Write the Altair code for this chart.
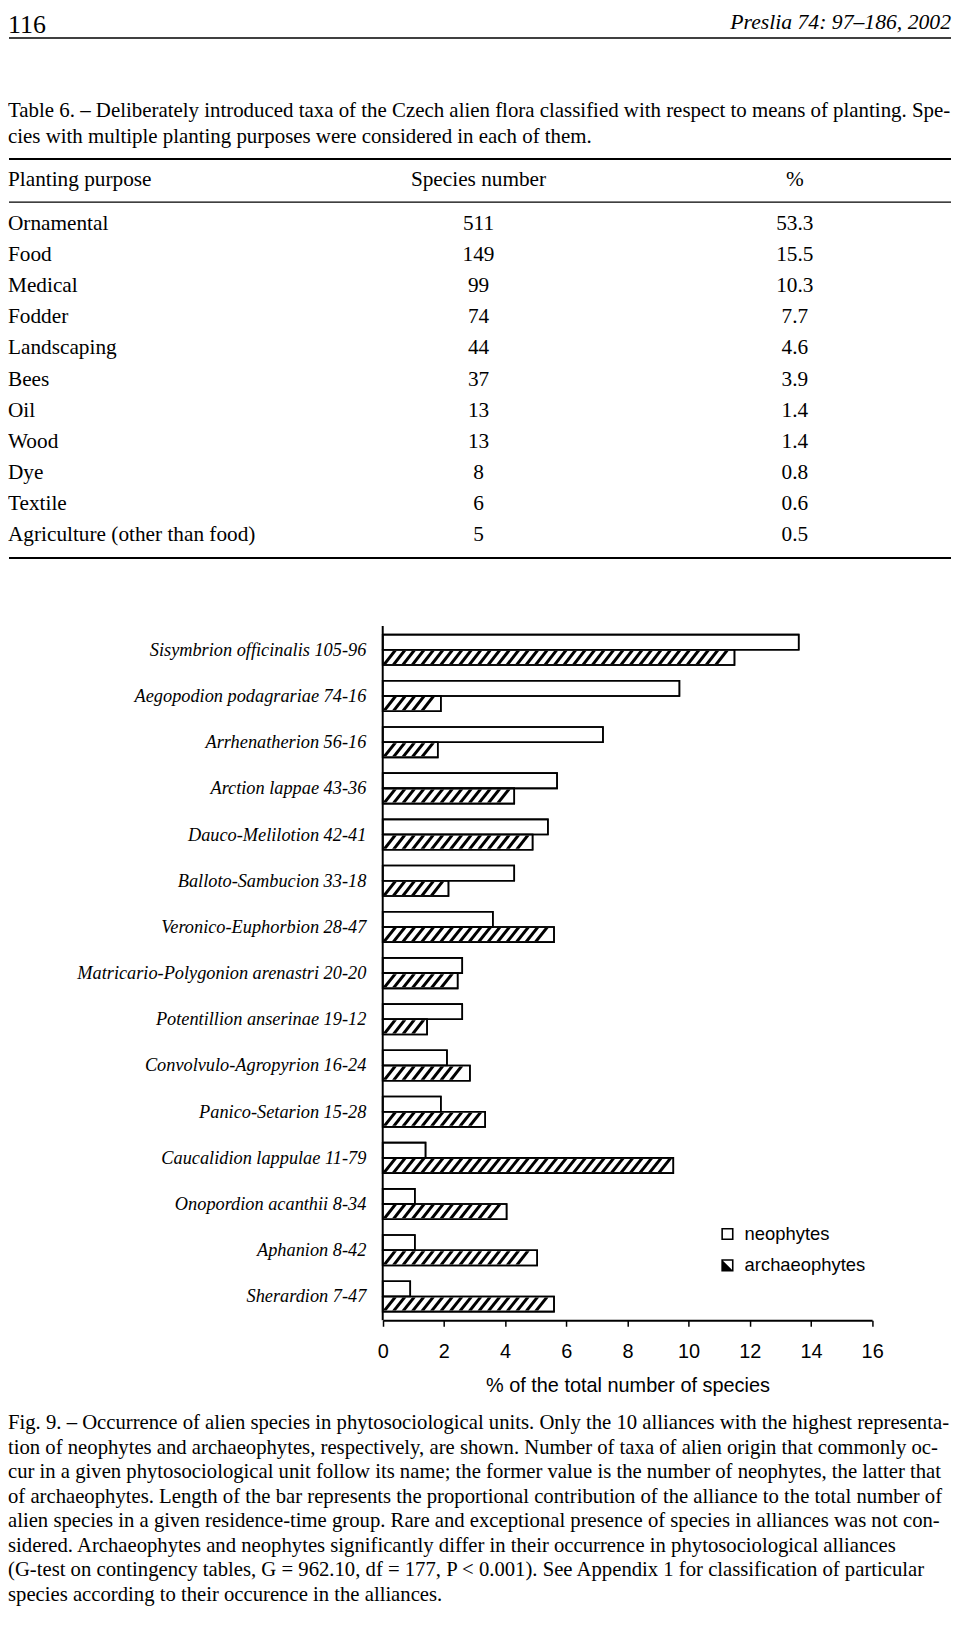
import altair as alt
import pandas as pd

# ---------------- data ----------------
page_number = "116"
journal_ref = "Preslia 74: 97–186, 2002"

table_caption = [
    "Table 6. – Deliberately introduced taxa of the Czech alien flora classified with respect to means of planting. Spe-",
    "cies with multiple planting purposes were considered in each of them.",
]
table_headers = ["Planting purpose", "Species number", "%"]
purposes = ["Ornamental", "Food", "Medical", "Fodder", "Landscaping", "Bees", "Oil",
            "Wood", "Dye", "Textile", "Agriculture (other than food)"]
species_number = [511, 149, 99, 74, 44, 37, 13, 13, 8, 6, 5]
species_percent = ["53.3", "15.5", "10.3", "7.7", "4.6", "3.9", "1.4", "1.4", "0.8", "0.6", "0.5"]

alliances = [
    "Sisymbrion officinalis 105-96",
    "Aegopodion podagrariae 74-16",
    "Arrhenatherion 56-16",
    "Arction lappae 43-36",
    "Dauco-Melilotion 42-41",
    "Balloto-Sambucion 33-18",
    "Veronico-Euphorbion 28-47",
    "Matricario-Polygonion arenastri 20-20",
    "Potentillion anserinae 19-12",
    "Convolvulo-Agropyrion 16-24",
    "Panico-Setarion 15-28",
    "Caucalidion lappulae 11-79",
    "Onopordion acanthii 8-34",
    "Aphanion 8-42",
    "Sherardion 7-47",
]
neophytes = [13.6, 9.7, 7.2, 5.7, 5.4, 4.3, 3.6, 2.6, 2.6, 2.1, 1.9, 1.4, 1.05, 1.05, 0.9]
archaeophytes = [11.5, 1.9, 1.8, 4.3, 4.9, 2.15, 5.6, 2.45, 1.45, 2.85, 3.35, 9.5, 4.05, 5.05, 5.6]
series_names = ["neophytes", "archaeophytes"]
x_ticks = [0, 2, 4, 6, 8, 10, 12, 14, 16]
x_title = "% of the total number of species"

fig_caption = [
    "Fig. 9. – Occurrence of alien species in phytosociological units. Only the 10 alliances with the highest representa-",
    "tion of neophytes and archaeophytes, respectively, are shown. Number of taxa of alien origin that commonly oc-",
    "cur in a given phytosociological unit follow its name; the former value is the number of neophytes, the latter that",
    "of archaeophytes. Length of the bar represents the proportional contribution of the alliance to the total number of",
    "alien species in a given residence-time group. Rare and exceptional presence of species in alliances was not con-",
    "sidered. Archaeophytes and neophytes significantly differ in their occurrence in phytosociological alliances",
    "(G-test on contingency tables, G = 962.10, df = 177, P < 0.001). See Appendix 1 for classification of particular",
    "species according to their occurence in the alliances.",
]

# ---------------- style ----------------
SERIF = "Liberation Serif"
SANS = "Liberation Sans"
W = 948

def text_at(text, x, y, size, align="left", baseline="middle", style="normal", font=SERIF):
    return alt.Chart(pd.DataFrame({"t": [text]})).mark_text(
        align=align, baseline=baseline, font=font, fontSize=size, fontStyle=style, color="black"
    ).encode(text="t:N", x=alt.value(x), y=alt.value(y))

def hrule(y, w):
    return alt.Chart(pd.DataFrame({"a": [0]})).mark_rule(color="black", strokeWidth=w).encode(
        x=alt.value(1), x2=alt.value(W), y=alt.value(y))

def caption_lines(lines, y0, y1, size):
    df = pd.DataFrame({"line": list(range(len(lines))), "t": lines})
    return alt.Chart(df).mark_text(
        align="left", baseline="middle", font=SERIF, fontSize=size, color="black"
    ).encode(
        x=alt.value(0),
        y=alt.Y("line:Q", scale=alt.Scale(domain=[0, len(lines) - 1], range=[y0, y1]), axis=None),
        text="t:N",
    )

# ---------------- top: header + table ----------------
TBL = 21.4
tbl = pd.DataFrame({"purpose": purposes, "n": species_number, "pct": species_percent})
yrow = alt.Y("purpose:N", sort=purposes,
             scale=alt.Scale(type="point", range=[212.8, 525.9], padding=0), axis=None)
tbase = alt.Chart(tbl)
col_purpose = tbase.mark_text(align="left", baseline="middle", font=SERIF, fontSize=TBL, color="black").encode(
    x=alt.value(0), y=yrow, text="purpose:N")
col_n = tbase.mark_text(align="center", baseline="middle", font=SERIF, fontSize=TBL, color="black").encode(
    x=alt.value(473), y=yrow, text="n:N")
col_pct = tbase.mark_text(align="center", baseline="middle", font=SERIF, fontSize=TBL, color="black").encode(
    x=alt.value(791), y=yrow, text="pct:N")

top = alt.layer(
    text_at(page_number, 0, 0, 26, baseline="top"),
    text_at(journal_ref, W, 0, 21.8, align="right", baseline="top", style="italic"),
    hrule(26, 1.5),
    caption_lines(table_caption, 99, 125, 21),
    hrule(147.5, 2),
    text_at(table_headers[0], 0, 169, TBL),
    text_at(table_headers[1], 473, 169, TBL, align="center"),
    text_at(table_headers[2], 791, 169, TBL, align="center"),
    hrule(191, 1.2),
    col_purpose, col_n, col_pct,
    hrule(548.7, 2),
).resolve_scale(y="independent").properties(width=W, height=617)

# ---------------- middle: bar chart ----------------
bars_df = pd.DataFrame({
    "alliance": alliances * 2,
    "type": [series_names[0]] * len(alliances) + [series_names[1]] * len(alliances),
    "pct": neophytes + archaeophytes,
})

xscale = alt.Scale(domain=[0, 16], range=[376.7, 868.7], nice=False, zero=True)
xaxis = alt.Axis(values=x_ticks, title=x_title, grid=False, labelFlush=False, labelOverlap=False,
                 domainColor="black", domainWidth=2, tickColor="black", tickWidth=1.5, tickSize=6,
                 labelFont=SANS, labelFontSize=20, labelColor="black", labelPadding=15,
                 titleFont=SANS, titleFontSize=20, titleFontWeight="normal", titleColor="black",
                 titlePadding=15, format="d")
Y = alt.Y("alliance:N", sort=alliances,
          scale=alt.Scale(paddingInner=0.341, paddingOuter=0.187), axis=None)
YO = alt.YOffset("type:N", scale=alt.Scale(domain=series_names, paddingInner=0, paddingOuter=0))

STRIPE = "M -1.08 1 L -0.5 1 L 1.08 -1 L 0.5 -1 Z"
NEO_SYM = "M -1 -1 L 1 -1 L 1 1 L -1 1 Z M -0.74 -0.74 L -0.74 0.74 L 0.74 0.74 L 0.74 -0.74 Z"
ARCH_SYM = NEO_SYM + " M -0.74 -0.74 L 0.74 0.74 L -0.74 0.74 Z"

base = alt.Chart(bars_df)
bars = base.mark_bar(fill="white", stroke="black", strokeWidth=1.6).encode(
    x=alt.X("pct:Q", scale=xscale, axis=xaxis), y=Y, yOffset=YO)
stripes = base.transform_filter(
    alt.datum.type == series_names[1]
).transform_calculate(
    k="sequence(0, floor((datum.pct - 0.46) / 0.31) + 1)"
).transform_flatten(["k"]).transform_calculate(
    xs="0.23 + datum.k * 0.31"
).mark_point(shape=STRIPE, filled=True, color="black", size=174, strokeWidth=0, opacity=1).encode(
    x=alt.X("xs:Q", scale=xscale, axis=xaxis), y=Y, yOffset=YO)
outline = base.mark_bar(fill="white", fillOpacity=0, stroke="black", strokeWidth=1.6).encode(
    x=alt.X("pct:Q", scale=xscale, axis=xaxis), y=Y, yOffset=YO)
labels = base.transform_filter(alt.datum.type == series_names[0]).mark_text(
    align="right", baseline="middle", font=SERIF, fontStyle="italic", fontSize=18.4, color="black"
).encode(x=alt.value(360.2), y=Y, text="alliance:N")
yline = alt.Chart(pd.DataFrame({"a": [0]})).mark_rule(color="black", strokeWidth=2).encode(
    x=alt.value(376.7), y=alt.value(0), y2=alt.value(698))
legend_layer = base.mark_point(filled=True, color="black", opacity=0, size=150).encode(
    x=alt.X("pct:Q", scale=xscale, axis=xaxis), y=Y, yOffset=YO,
    shape=alt.Shape("type:N", scale=alt.Scale(domain=series_names, range=[NEO_SYM, ARCH_SYM]),
                    legend=alt.Legend(orient="none", legendX=714, legendY=1219, title=None,
                                      direction="vertical", labelFont=SANS, labelFontSize=18.5,
                                      labelColor="black", symbolSize=150, symbolStrokeWidth=0,
                                      symbolFillColor="black", symbolOpacity=1, rowPadding=12.5,
                                      labelOffset=8, padding=0)))

middle = alt.layer(bars, stripes, outline, labels, yline, legend_layer).properties(width=W, height=698)

# ---------------- bottom: figure caption ----------------
bottom = caption_lines(fig_caption, 103.6, 276, 20.8).properties(width=W, height=280)

chart = alt.vconcat(top, middle, bottom, spacing=0, bounds="flush", padding=0).configure_view(
    stroke=None).properties(background="white")

chart.save("out.html", embed_options={"renderer": "svg", "actions": False})
